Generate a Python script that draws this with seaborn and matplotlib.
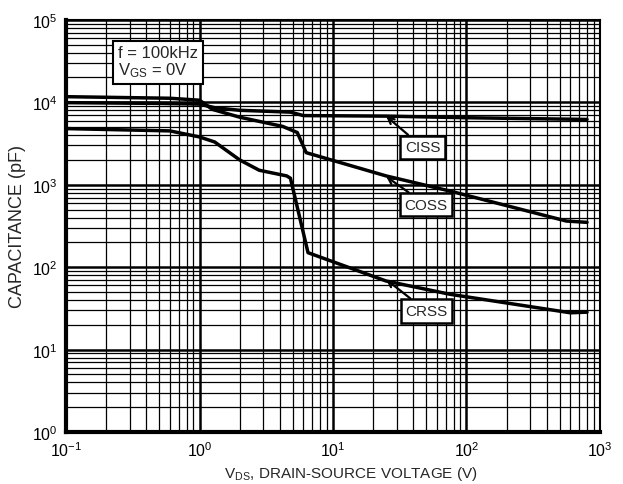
import math
import pandas as pd
import seaborn as sns
import matplotlib.pyplot as plt
from matplotlib.ticker import LogLocator, FuncFormatter, NullFormatter

# Curve data (V_DS in volts, capacitance in pF)
v_ciss = [0.1, 0.5, 1.0, 1.3, 2.0, 4.8, 6.0, 25, 100, 800]
c_ciss = [9900, 9700, 9500, 8600, 8000, 7600, 6900, 6800, 6500, 6200]

v_coss = [0.1, 0.6, 1.0, 1.25, 2.0, 4.2, 5.4, 6.3, 25, 75, 560, 800]
c_coss = [11700, 11200, 10600, 8200, 6600, 5100, 4300, 2450, 1280, 840, 363, 350]

v_crss = [0.1, 0.6, 1.0, 1.3, 2.0, 2.8, 4.5, 4.8, 6.5, 25, 75, 600, 800]
c_crss = [4800, 4500, 3800, 3300, 2000, 1500, 1280, 1200, 150, 68, 47, 28, 28.5]

curve_names = ['CISS', 'COSS', 'CRSS']
# label text position and arrow tip (data coords)
label_pos = [(47, 2850), (50, 570), (50, 29.5)]
arrow_tip = [(25, 6800), (25, 1260), (25, 71)]

sns.set_style("white")
plt.rcParams['font.family'] = ['Liberation Sans', 'DejaVu Sans']
plt.rcParams['mathtext.fontset'] = 'custom'
plt.rcParams['mathtext.rm'] = 'Liberation Sans'
plt.rcParams['mathtext.it'] = 'Liberation Sans'

frames = []
for name, v, c in zip(curve_names, [v_ciss, v_coss, v_crss], [c_ciss, c_coss, c_crss]):
    frames.append(pd.DataFrame({'V': v, 'C': c, 'curve': name}))
df = pd.concat(frames, ignore_index=True)

fig, ax = plt.subplots(figsize=(6.23, 4.85), dpi=100)
fig.subplots_adjust(left=0.106, right=0.963, top=0.957, bottom=0.107)

ax.set_xscale('log')
ax.set_yscale('log')
ax.set_xlim(0.1, 1000)
ax.set_ylim(1, 1e5)

# grid: major thicker, minor at 2..9
for axis in (ax.xaxis, ax.yaxis):
    axis.set_major_locator(LogLocator(base=10, numticks=10))
    axis.set_minor_locator(LogLocator(base=10, subs=range(2, 10), numticks=20))
    axis.set_minor_formatter(NullFormatter())
    axis.set_major_formatter(FuncFormatter(lambda x, p: r'$\mathregular{10^{%d}}$' % round(math.log10(x))))
ax.grid(which='major', color='black', linewidth=1.8)
ax.grid(which='minor', color='black', linewidth=0.9)
ax.set_axisbelow(True)

sns.lineplot(data=df, x='V', y='C', units='curve', estimator=None, sort=False,
             color='black', linewidth=2.5, ax=ax, legend=False)

ax.tick_params(which='both', length=0, labelsize=11.5, pad=6, colors='black')

for side in ['left', 'bottom']:
    ax.spines[side].set_linewidth(3)
for side in ['top', 'right']:
    ax.spines[side].set_linewidth(1.5)
for s in ax.spines.values():
    s.set_color('black')

ax.set_xlabel(r'V$_{\mathregular{DS}}$, DRAIN-SOURCE VOLTAGE (V)', fontsize=11)
ax.xaxis.set_label_coords(0.534, -0.077)
ax.set_ylabel('CAPACITANCE (pF)', fontsize=13, labelpad=4)

ax.text(0.098, 0.94, 'f = 100kHz\n' + r'V$_{\mathregular{GS}}$ = 0V', transform=ax.transAxes,
        fontsize=12, ha='left', va='top', linespacing=1.05,
        bbox=dict(boxstyle='square,pad=0.3', fc='white', ec='black', lw=1.5))

for name, pos, tip in zip(curve_names, label_pos, arrow_tip):
    ax.annotate(name, xy=tip, xytext=pos, fontsize=11, ha='center', va='center',
                bbox=dict(boxstyle='square,pad=0.3', fc='white', ec='black', lw=1.8),
                arrowprops=dict(arrowstyle='->', color='black', lw=1.6, shrinkA=0, shrinkB=0))

plt.savefig('out.png', dpi=100)
